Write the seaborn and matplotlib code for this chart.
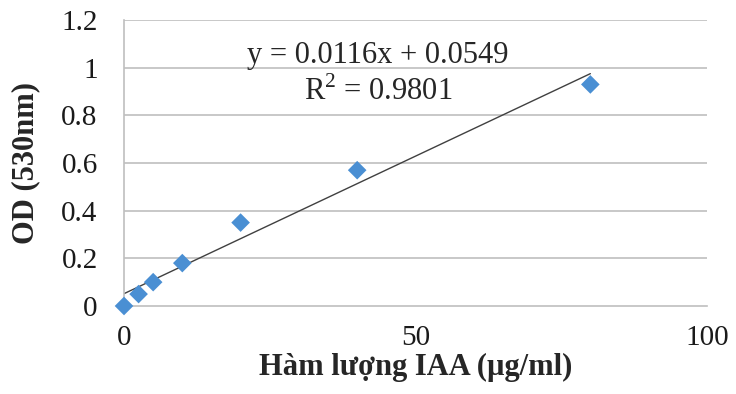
import matplotlib
matplotlib.use("Agg")
import matplotlib.pyplot as plt
import numpy as np
import pandas as pd
import seaborn as sns

# IAA standard curve readings
iaa_conc = [0, 2.5, 5, 10, 20, 40, 80]
od_values = [0.0, 0.05, 0.10, 0.18, 0.35, 0.57, 0.93]
x_ticks = [0, 50, 100]
y_ticks = [0, 0.2, 0.4, 0.6, 0.8, 1.0, 1.2]
y_tick_labels = ["0", "0.2", "0.4", "0.6", "0.8", "1", "1.2"]
equation_text = "y = 0.0116x + 0.0549"
r2_text = "R$^2$ = 0.9801"

df = pd.DataFrame({"conc": iaa_conc, "od": od_values})

sns.set_style("white")
plt.rcParams["font.family"] = ["Liberation Serif", "DejaVu Serif"]
plt.rcParams["mathtext.fontset"] = "custom"
plt.rcParams["mathtext.rm"] = "Liberation Serif"

fig = plt.figure(figsize=(7.36, 3.94), dpi=100)
ax = fig.add_axes([0.1685, 0.2234, 0.7920, 0.7256])

grid_color = "#bfbfbf"
for y in y_ticks[1:]:
    ax.axhline(y, color=grid_color, lw=1.2, zorder=0)

sns.regplot(data=df, x="conc", y="od", scatter=False, ci=None, ax=ax,
            line_kws={"color": "#404040", "lw": 1.0, "zorder": 2})
sns.scatterplot(data=df, x="conc", y="od", marker="D", s=90, color="#4a8fd3",
                edgecolor="none", ax=ax, zorder=3, clip_on=False)

ax.set_xlim(0, 100)
ax.set_ylim(0, 1.2)
ax.set_xticks(x_ticks)
ax.set_yticks(y_ticks)
ax.set_yticklabels(y_tick_labels)

for side in ["top", "right"]:
    ax.spines[side].set_visible(False)
for side in ["left", "bottom"]:
    ax.spines[side].set_color(grid_color)
    ax.spines[side].set_linewidth(1.2)

ax.tick_params(axis="both", labelsize=21, labelcolor="#1a1a1a")
ax.tick_params(axis="x", length=7, width=1.2, color=grid_color, direction="out", pad=7)
ax.tick_params(axis="y", length=7, width=1.2, color=grid_color, direction="out", pad=12)

ax.set_xlabel("Hàm lượng IAA (µg/ml)", fontsize=22, fontweight="bold", labelpad=1)
ax.set_ylabel("OD (530nm)", fontsize=22, fontweight="bold", labelpad=15)

ax.text(43.6, 1.05, equation_text, fontsize=22, ha="center", va="center")
ax.text(43.6, 0.90, r2_text, fontsize=22, ha="center", va="center")

fig.savefig("out.png", dpi=100)
